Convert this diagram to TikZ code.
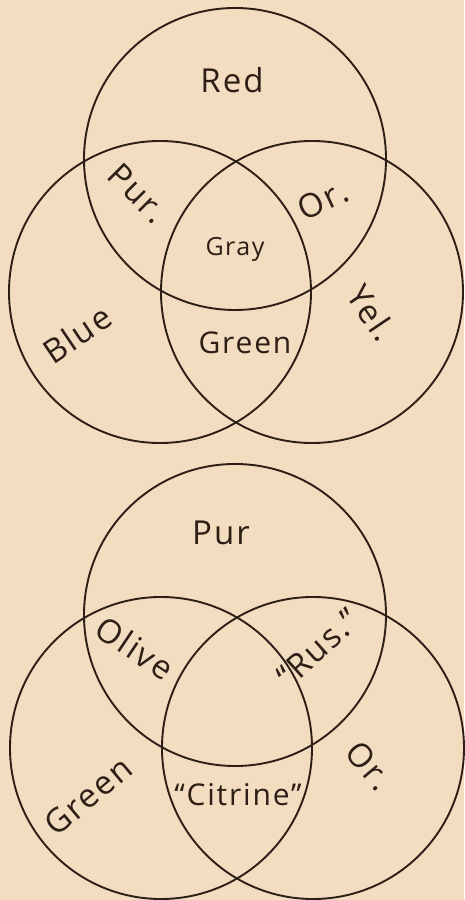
\documentclass[tikz,border=0pt]{standalone}
\usepackage{fontspec}
\setmainfont[LetterSpace=6]{Open Sans}
\usepackage{tikz}
\definecolor{paper}{RGB}{242,221,193}
\definecolor{ink}{RGB}{45,30,22}

\begin{document}
\begin{tikzpicture}[
    x=1pt, y=1pt,
    ring/.style={draw=ink, line width=1.9pt},
    lbl/.style={text=ink, inner sep=0pt, font=\fontsize{33}{36}\selectfont},
    smalllbl/.style={lbl, font=\fontsize{25}{28}\selectfont},
]

% === Page and background ===
\fill[paper] (0,0) rectangle (464,900);
\useasboundingbox (0,0) rectangle (464,900);

% === Upper diagram: primaries ===
\coordinate (redc) at (235,741);
\coordinate (bluec) at (160,608);
\coordinate (yelc) at (312,608);
\draw[ring] (redc) circle (151);
\draw[ring] (bluec) circle (151);
\draw[ring] (yelc) circle (151);

\node[lbl] (red) at (232,820) {Red};
\node[lbl, rotate=-45] (pur) at (138,707) {Pur.};
\node[lbl, rotate=25] (or) at (323,700) {Or.};
\node[smalllbl] (gray) at (235,651) {Gray};
\node[lbl, rotate=34] (blue) at (77,566) {Blue};
\node[lbl, font=\fontsize{30}{33}\selectfont] (green) at (245,557) {Green};
\node[lbl, rotate=-56] (yel) at (372,587) {Yel.};

% === Lower diagram: secondaries ===
\coordinate (purc) at (235,285);
\coordinate (greenc) at (161,152);
\coordinate (orc) at (313,152);
\draw[ring] (purc) circle (151);
\draw[ring] (greenc) circle (151);
\draw[ring] (orc) circle (151);

\node[lbl] (pur2) at (221,367) {Pur};
\node[lbl, rotate=-34] (olive) at (135,252) {Olive};
\node[lbl, rotate=42] (rus) at (318,252) {``Rus.''};
\node[lbl, rotate=-50] (or2) at (369,134) {Or.};
\node[lbl, rotate=40] (green2) at (88,104) {Green};
\node[lbl, font=\fontsize{30}{33}\selectfont] (citrine) at (238,105) {``Citrine''};

\end{tikzpicture}
\end{document}
